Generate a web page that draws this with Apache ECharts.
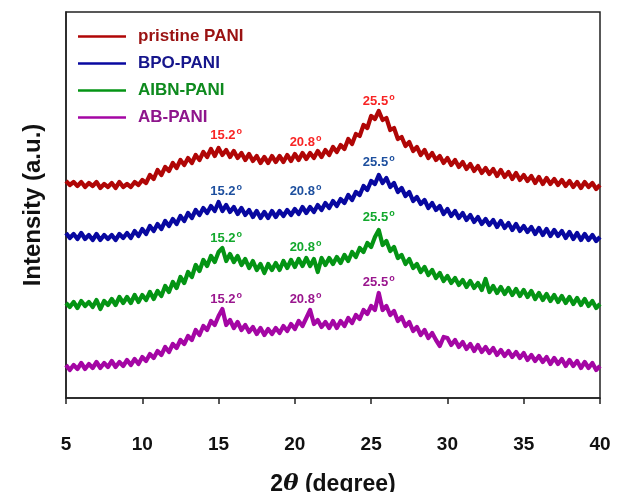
<!DOCTYPE html>
<html>
<head>
<meta charset="utf-8">
<script src="https://cdn.jsdelivr.net/npm/echarts@6/dist/echarts.min.js"></script>
<style>
  html, body { margin: 0; padding: 0; background: #fff; }
  #chart { width: 617px; height: 492px; }
</style>
</head>
<body>
<div id="chart"></div>
<script>
// 2theta from 5 to 40 deg, one reading every 0.25 deg
var angleStart = 5, angleStep = 0.25;

// intensities (already offset like the stacked plot)
var pristinePANI = [
  217,213,216,212, 216,211,215,212, 216,210,214,211, 215,210,216,211, 214,211,216,213,
  218,215,223,219, 228,223,231,227, 235,230,238,233, 240,235,243,238, 246,241,249,242,
  250,243,248,241, 247,240,245,238, 244,237,242,235, 241,235,242,236, 242,236,243,237,
  244,238,245,239, 245,240,247,241, 248,243,251,246, 253,249,259,254, 264,262,273,270,
  282,279,287,278, 280,268,270,259, 261,252,256,247, 251,243,248,240, 245,238,242,235,
  240,233,238,231, 236,229,234,227, 232,225,230,224, 229,222,228,221, 226,219,225,218,
  223,217,222,215, 221,214,220,214, 219,213,218,212, 217,211,216,210, 216,211,215,209,
  213
];
var bpoPANI = [
  165,160,164,159, 165,159,163,158, 164,158,163,159, 163,158,164,160, 165,160,167,162,
  169,164,172,167, 174,169,177,172, 179,174,182,177, 185,180,188,183, 190,185,192,187,
  196,187,193,186, 191,184,190,183, 188,181,187,180, 186,180,187,181, 187,182,188,183,
  189,184,191,185, 191,186,193,188, 195,190,197,192, 199,195,203,198, 206,203,212,208,
  217,214,223,215, 220,211,215,206, 210,202,206,197, 201,194,198,190, 195,188,192,184,
  189,182,187,180, 185,178,183,176, 181,174,179,173, 178,171,177,170, 175,168,174,167,
  172,166,171,164, 170,163,169,162, 168,162,167,160, 166,159,165,158, 164,158,163,157,
  161
];
var aibnPANI = [
  95,91,96,90, 97,92,96,91, 98,89,97,93, 99,93,101,95, 101,95,103,96,
  103,98,106,99, 107,102,112,106, 116,110,121,115, 126,121,133,127, 138,132,142,136,
  146,150,137,144, 136,142,133,139, 130,137,128,134, 125,134,128,135, 128,137,130,138,
  131,139,132,140, 132,139,126,140, 133,140,134,141, 135,143,137,146, 141,150,146,155,
  151,161,168,153, 157,147,151,140, 143,134,139,130, 134,126,131,123, 128,120,125,117,
  122,115,120,113, 118,111,117,110, 115,108,119,106, 112,105,111,104, 110,103,109,102,
  108,101,107,99, 105,98,104,97, 103,96,102,95, 101,94,100,93, 99,92,97,90,
  94
];
var abPANI = [
  33,28,33,29, 35,29,34,30, 36,30,35,31, 37,31,36,32, 38,33,39,34,
  41,37,44,40, 47,43,51,46, 54,50,58,54, 62,58,68,63, 72,68,77,73,
  82,89,73,78, 70,76,68,73, 66,71,64,70, 63,69,64,70, 65,72,67,74,
  69,77,72,80, 88,74,78,71, 76,70,77,70, 77,72,80,75, 83,79,88,84,
  92,88,105,88, 92,83,87,77, 81,72,76,67, 71,63,68,60, 65,58,52,61,
  60,53,58,51, 56,49,54,47, 53,46,51,45, 50,43,48,42, 47,41,46,40,
  45,38,43,37, 42,36,41,34, 40,34,39,32, 38,32,37,30, 36,30,35,28,
  32
];

var seriesNames = ['pristine PANI', 'BPO-PANI', 'AIBN-PANI', 'AB-PANI'];
var lineColors = ['#b00606', '#0808a0', '#049414', '#a406a4'];
var legendColors = ['#9a1212', '#16168c', '#0e8a1e', '#8e168c'];
var peakColors = ['#f82424', '#1d4f9e', '#12a82c', '#9a168e'];

// peak labels: [2theta, height] where the text sits
var peakText = ['15.2', '20.8', '25.5'];
var pristineLabels = [[15.5, 263], [20.7, 256], [25.5, 297]];
var bpoLabels = [[15.5, 207], [20.7, 207], [25.5, 236]];
var aibnLabels = [[15.5, 160], [20.7, 151], [25.5, 181]];
var abLabels = [[15.5, 99], [20.7, 99], [25.5, 116]];

var allData = [pristinePANI, bpoPANI, aibnPANI, abPANI];
var allLabels = [pristineLabels, bpoLabels, aibnLabels, abLabels];

var myChart = echarts.init(document.getElementById('chart'));

var series = [];
allData.forEach(function (vals, k) {
  var pts = vals.map(function (v, i) { return [angleStart + i * angleStep, v]; });
  series.push({
    name: seriesNames[k],
    type: 'line',
    symbol: 'none',
    data: pts,
    lineStyle: { color: lineColors[k], width: 4.2, join: 'round', cap: 'butt' },
    itemStyle: { color: lineColors[k] },
    animation: false,
    markPoint: {
      symbol: 'circle',
      symbolSize: 0,
      animation: false,
      label: {
        show: true,
        position: 'inside',
        color: peakColors[k],
        formatter: function (p) { return '{a|' + p.name + '}{b|o}'; },
        rich: {
          a: { fontSize: 13, fontWeight: 'bold', fontFamily: 'Liberation Sans, Arial', color: peakColors[k] },
          b: { fontSize: 9, fontWeight: 'bold', fontFamily: 'Liberation Sans, Arial', color: peakColors[k], padding: [0, 0, 7, 1] }
        }
      },
      data: allLabels[k].map(function (c, j) { return { name: peakText[j], coord: c }; })
    }
  });
});

var options = {
  backgroundColor: '#fff',
  legend: {
    orient: 'vertical',
    left: 73,
    top: 23,
    icon: 'rect',
    itemWidth: 48,
    itemHeight: 2.5,
    itemGap: 10,
    textStyle: { fontSize: 17, fontWeight: 'bold', fontFamily: 'Liberation Sans, Arial', padding: [0, 0, 0, 7] },
    data: seriesNames.map(function (n, k) {
      return { name: n, textStyle: { color: legendColors[k] } };
    })
  },
  grid: {
    left: 66, right: 17, top: 12, bottom: 94,
    outerBoundsMode: 'none',
    containLabel: false,
    show: true, borderColor: '#222', borderWidth: 1.5
  },
  xAxis: {
    type: 'value',
    min: 5, max: 40, interval: 5,
    name: '{n|2}{t|θ}{n| (degree)}',
    nameLocation: 'middle',
    nameGap: 75,
    nameTextStyle: {
      rich: {
        n: { fontSize: 23, fontWeight: 'bold', fontFamily: 'Liberation Sans, Arial', color: '#111' },
        t: { fontSize: 23, fontWeight: 'bold', fontStyle: 'italic', fontFamily: 'DejaVu Serif, serif', color: '#111' }
      }
    },
    axisLine: { lineStyle: { color: '#222', width: 1.5 } },
    axisTick: { show: true, inside: false, length: 6, lineStyle: { color: '#222', width: 1.5 } },
    axisLabel: { margin: 37, fontSize: 19, fontWeight: 'bold', fontFamily: 'Liberation Sans, Arial', color: '#111' },
    splitLine: { show: false }
  },
  yAxis: {
    type: 'value',
    min: 0, max: 386,
    name: 'Intensity (a.u.)',
    nameLocation: 'middle',
    nameGap: 21,
    nameTextStyle: { fontSize: 24, fontWeight: 'bold', fontFamily: 'Liberation Sans, Arial', color: '#111' },
    axisLine: { show: true, lineStyle: { color: '#222', width: 1.5 } },
    axisTick: { show: false },
    axisLabel: { show: false },
    splitLine: { show: false }
  },
  series: series
};

myChart.setOption(options, true);
</script>
</body>
</html>
